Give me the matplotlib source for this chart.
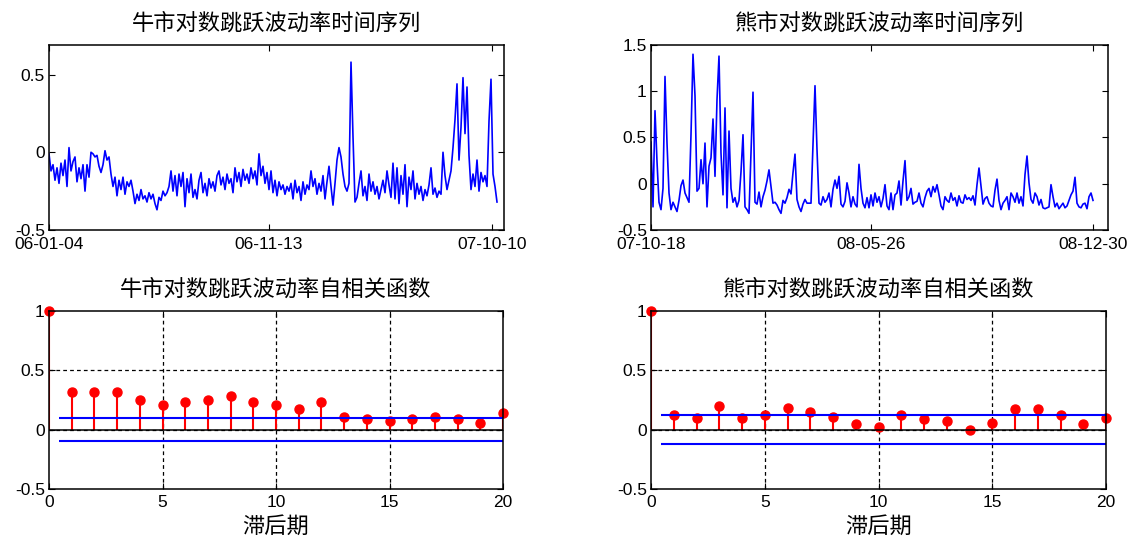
import matplotlib
matplotlib.use("Agg")
import matplotlib.pyplot as plt
import matplotlib.ticker as ticker
import numpy as np

plt.rcParams['font.family'] = ['Liberation Sans', 'Noto Sans CJK SC']
plt.rcParams['axes.unicode_minus'] = False

# bull market log jump volatility (~2 px per point)
bull_vol = [
    -0.01, -0.12, -0.08, -0.18, -0.10, -0.20, -0.07, -0.15, -0.05, -0.22,
    0.03, -0.12, -0.06, -0.03, -0.19, -0.10, -0.17, -0.08, -0.25, -0.08,
    -0.16, 0.00, -0.01, -0.03, -0.02, -0.09, -0.13, -0.08, 0.01, -0.05,
    -0.03, -0.14, -0.22, -0.16, -0.28, -0.18, -0.24, -0.16, -0.27, -0.19,
    -0.22, -0.18, -0.25, -0.33, -0.27, -0.31, -0.24, -0.30, -0.28, -0.32,
    -0.26, -0.30, -0.27, -0.33, -0.37, -0.29, -0.31, -0.25, -0.28, -0.26,
    -0.22, -0.12, -0.25, -0.15, -0.28, -0.14, -0.22, -0.13, -0.35, -0.17,
    -0.26, -0.14, -0.29, -0.24, -0.30, -0.18, -0.13, -0.26, -0.20, -0.28,
    -0.17, -0.23, -0.19, -0.25, -0.15, -0.12, -0.21, -0.16, -0.24, -0.14,
    -0.20, -0.17, -0.26, -0.10, -0.19, -0.13, -0.22, -0.11, -0.18, -0.14,
    -0.20, -0.10, -0.17, -0.12, -0.21, -0.01, -0.15, -0.09, -0.20, -0.13,
    -0.24, -0.12, -0.26, -0.18, -0.28, -0.19, -0.24, -0.21, -0.27, -0.22,
    -0.25, -0.20, -0.30, -0.18, -0.26, -0.22, -0.31, -0.19, -0.27, -0.21,
    -0.24, -0.12, -0.22, -0.17, -0.27, -0.20, -0.25, -0.15, -0.30, -0.19,
    -0.09, -0.22, -0.34, -0.20, -0.05, 0.03, -0.03, -0.14, -0.22, -0.25,
    -0.20, 0.58, 0.10, -0.32, -0.29, -0.20, -0.12, -0.28, -0.22, -0.31,
    -0.14, -0.25, -0.19, -0.27, -0.22, -0.30, -0.24, -0.18, -0.26, -0.12,
    -0.21, -0.29, -0.07, -0.30, -0.10, -0.33, -0.15, -0.27, -0.08, -0.35,
    -0.16, -0.24, -0.12, -0.30, -0.20, -0.27, -0.22, -0.31, -0.24, -0.28,
    -0.21, -0.10, -0.27, -0.23, -0.29, -0.25, -0.27, 0.00, -0.15, -0.24,
    -0.18, -0.12, 0.03, 0.21, 0.44, -0.05, 0.16, 0.48, 0.12, 0.42,
    -0.02, -0.24, -0.14, -0.22, -0.05, -0.25, -0.13, -0.19, -0.15, -0.22,
    0.20, 0.47, -0.14, -0.22, -0.32,
]

# bear market log jump volatility
bear_vol = [
    0.45, -0.25, 0.79, 0.24, -0.20, -0.28, -0.05, 1.16, 0.44, -0.10,
    -0.28, -0.20, -0.25, -0.30, -0.18, -0.02, 0.04, -0.10, -0.15, -0.20,
    0.53, 1.40, 0.95, -0.08, -0.05, 0.26, 0.00, 0.44, -0.25, 0.19,
    0.28, 0.70, 0.08, 0.91, 1.38, 0.33, -0.12, 0.82, -0.26, 0.57,
    -0.05, -0.20, -0.15, -0.25, -0.18, 0.13, 0.53, -0.25, -0.28, -0.32,
    0.33, 0.99, -0.20, -0.22, -0.09, -0.25, -0.14, -0.07, 0.03, 0.15,
    -0.03, -0.21, -0.20, -0.23, -0.28, -0.32, -0.18, -0.21, -0.15, -0.06,
    -0.11, 0.12, 0.32, -0.17, -0.25, -0.30, -0.22, -0.17, -0.21, -0.21,
    -0.21, 0.41, 1.06, 0.37, -0.21, -0.23, -0.14, -0.20, -0.17, -0.10,
    -0.25, -0.06, 0.04, -0.05, 0.08, -0.22, -0.25, -0.19, 0.01, -0.10,
    -0.25, -0.14, -0.22, -0.25, 0.21, -0.05, -0.21, -0.26, -0.15, -0.26,
    -0.12, -0.24, -0.10, -0.20, -0.14, -0.25, -0.16, -0.01, -0.24, -0.28,
    -0.10, -0.28, -0.12, -0.10, 0.03, -0.23, 0.03, 0.25, -0.18, -0.14,
    -0.05, -0.22, -0.20, -0.19, -0.10, -0.21, -0.25, -0.15, -0.08, -0.05,
    -0.14, -0.03, -0.09, -0.01, -0.12, -0.24, -0.28, -0.14, -0.18, -0.20,
    -0.10, -0.18, -0.15, -0.24, -0.13, -0.20, -0.21, -0.12, -0.17, -0.15,
    -0.18, -0.13, -0.23, -0.01, 0.17, -0.03, -0.22, -0.16, -0.14, -0.21,
    -0.24, -0.25, -0.07, 0.05, -0.18, -0.28, -0.21, -0.18, -0.14, -0.28,
    -0.10, -0.14, -0.20, -0.10, -0.21, -0.14, -0.24, 0.10, 0.30, 0.01,
    -0.17, -0.21, -0.10, -0.14, -0.23, -0.17, -0.26, -0.27, -0.26, -0.25,
    -0.01, -0.14, -0.25, -0.21, -0.27, -0.24, -0.21, -0.26, -0.24, -0.18,
    -0.12, -0.08, 0.07, -0.21, -0.25, -0.26, -0.22, -0.21, -0.27, -0.14,
    -0.10, -0.18,
]

bull_dates = ['06-01-04', '06-11-13', '07-10-10']
bull_date_pos = [0, 110, 221.5]
bear_dates = ['07-10-18', '08-05-26', '08-12-30']
bear_date_pos = [0, 110, 221]

lags = np.arange(21)
bull_acf = [1.0, 0.32, 0.32, 0.32, 0.25, 0.21, 0.23, 0.25, 0.28, 0.23, 0.21,
            0.17, 0.23, 0.11, 0.09, 0.07, 0.09, 0.11, 0.09, 0.06, 0.14]
bear_acf = [1.0, 0.12, 0.10, 0.20, 0.10, 0.12, 0.18, 0.15, 0.11, 0.05, 0.02,
            0.12, 0.09, 0.07, 0.00, 0.06, 0.17, 0.17, 0.12, 0.05, 0.10]
bull_bound = 0.098
bear_bound = 0.123

W, H = 1136, 538
fig = plt.figure(figsize=(W / 100, H / 100), dpi=100)
ax1 = fig.add_axes([49 / W, 1 - 230 / H, 455 / W, 185 / H])
ax2 = fig.add_axes([651 / W, 1 - 230 / H, 457 / W, 185 / H])
ax3 = fig.add_axes([49 / W, 1 - 489 / H, 454 / W, 178 / H])
ax4 = fig.add_axes([651 / W, 1 - 489 / H, 455 / W, 178 / H])

title_font = dict(fontsize=16, family=['Noto Sans CJK SC'], pad=11)


def style(ax, xpad=3):
    for s in ax.spines.values():
        s.set_linewidth(1.1)
        s.set_color('k')
    ax.tick_params(direction='in', top=True, right=True, length=4,
                   labelsize=12.5, pad=3, width=0.8)
    ax.tick_params(axis='x', pad=xpad)
    ax.yaxis.set_major_formatter(ticker.FormatStrFormatter('%g'))


# time series
ax1.plot(np.arange(len(bull_vol)), bull_vol, color='b', lw=1.2)
ax1.set_xlim(0, 227.5)
ax1.set_ylim(-0.5, 0.69)
ax1.set_yticks([-0.5, 0, 0.5])
ax1.set_xticks(bull_date_pos)
ax1.set_xticklabels(bull_dates)
ax1.set_title('牛市对数跳跃波动率时间序列', **title_font)
style(ax1, xpad=5)

ax2.plot(np.arange(len(bear_vol)), bear_vol, color='b', lw=1.2)
ax2.set_xlim(0, 228.5)
ax2.set_ylim(-0.5, 1.5)
ax2.set_yticks([-0.5, 0, 0.5, 1, 1.5])
ax2.set_xticks(bear_date_pos)
ax2.set_xticklabels(bear_dates)
ax2.set_title('熊市对数跳跃波动率时间序列', **title_font)
style(ax2, xpad=5)


# autocorrelation
def acf_plot(ax, acf, bound, title):
    xt = [0, 5, 10, 15, 20]
    yt = [-0.5, 0, 0.5, 1]
    # dashed grid on the inner ticks only (edges stay solid)
    grid_style = dict(color='k', linestyle=(0, (3, 2.5)), linewidth=0.9, zorder=1)
    for x in xt[1:-1]:
        ax.axvline(x, **grid_style)
    for y in yt[1:-1]:
        ax.axhline(y, **grid_style)
    markerline, stemlines, baseline = ax.stem(lags, acf, linefmt='r-',
                                              markerfmt='ro', basefmt='k-')
    markerline.set_markersize(6.5)
    markerline.set_clip_on(False)
    stemlines.set_linewidth(1.5)
    baseline.set_linewidth(1.1)
    ax.hlines([bound, -bound], 0.45, lags[-1], colors='b', lw=1.5)
    ax.set_xlim(0, 20)
    ax.set_ylim(-0.5, 1)
    ax.set_xticks(xt)
    ax.set_yticks(yt)
    ax.set_title(title, **title_font)
    ax.set_xlabel('滞后期', fontsize=16, family=['Noto Sans CJK SC'], labelpad=4)
    style(ax, xpad=4)


acf_plot(ax3, bull_acf, bull_bound, '牛市对数跳跃波动率自相关函数')
acf_plot(ax4, bear_acf, bear_bound, '熊市对数跳跃波动率自相关函数')

fig.savefig('out.png', dpi=100)
